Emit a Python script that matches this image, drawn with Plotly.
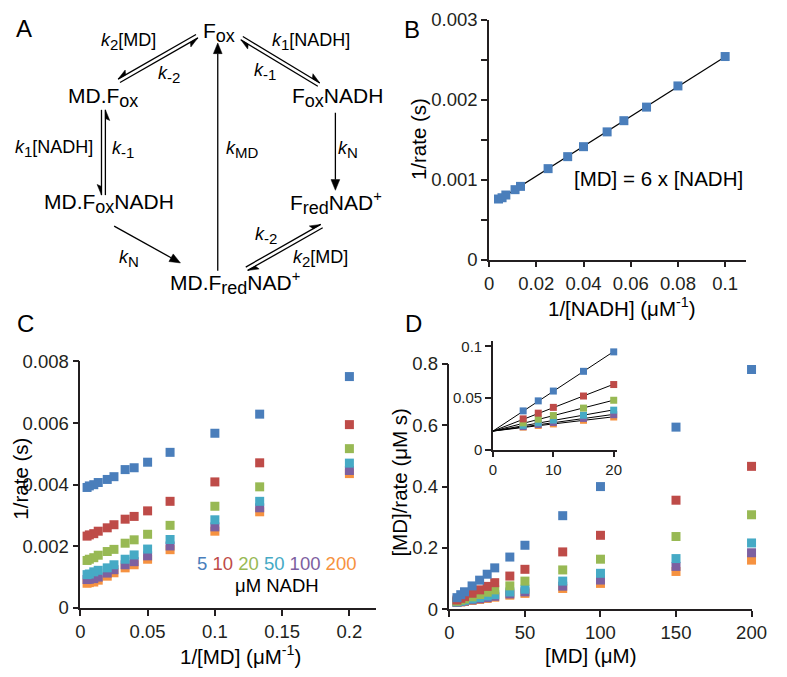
import numpy as np
import plotly.graph_objects as go

W, H = 787, 677

# ---------------- data ----------------
# Panel B
b_inv_nadh = [0.004, 0.0055, 0.0071, 0.011, 0.0133, 0.025, 0.0333, 0.04, 0.05, 0.0571, 0.0667, 0.08, 0.1]
b_inv_rate = [0.00076, 0.000776, 0.00081, 0.000877, 0.000918, 0.00114, 0.00129, 0.001415, 0.0016,
              0.00174, 0.00191, 0.002175, 0.002543]

# Panels C / D
md_conc = [5, 7.5, 10, 15, 20, 25, 30, 40, 50, 75, 100, 150, 200]
inv_md = [0.2, 0.1333, 0.1, 0.0667, 0.05, 0.04, 0.0333, 0.025, 0.02, 0.0133, 0.01, 0.0067, 0.005]
nadh_labels = ["5", "10", "20", "50", "100", "200"]
colors = ["#4A7EBB", "#BE4B48", "#98B954", "#46AAC5", "#7D60A0", "#F69240"]

c_inv_rate = [
    [0.00751, 0.00629, 0.00567, 0.00505, 0.00473, 0.00455, 0.00449, 0.00426, 0.00417, 0.00407, 0.0040, 0.00396, 0.00391],
    [0.00595, 0.00471, 0.00409, 0.00346, 0.00315, 0.00297, 0.00288, 0.0027, 0.0026, 0.00249, 0.00241, 0.00237, 0.00233],
    [0.00517, 0.00393, 0.0033, 0.00268, 0.00239, 0.00221, 0.0021, 0.0019, 0.00183, 0.00171, 0.00163, 0.00158, 0.00154],
    [0.0047, 0.00346, 0.00286, 0.00222, 0.00191, 0.00172, 0.00158, 0.0014, 0.0013, 0.00122, 0.00117, 0.0011, 0.00108],
    [0.00446, 0.00325, 0.00263, 0.00201, 0.00169, 0.0015, 0.0014, 0.00124, 0.00113, 0.001, 0.00095, 0.00093, 0.00092],
    [0.00436, 0.00312, 0.00249, 0.00189, 0.00158, 0.0014, 0.0013, 0.00114, 0.00103, 0.0009, 0.00084, 0.00082, 0.0008],
]

d_md_rate = [
    [0.0375, 0.0472, 0.0567, 0.0758, 0.0946, 0.114, 0.1347, 0.170, 0.2085, 0.305, 0.40, 0.594, 0.782],
    [0.0298, 0.0353, 0.0409, 0.0519, 0.063, 0.0743, 0.0864, 0.108, 0.13, 0.1868, 0.241, 0.3555, 0.466],
    [0.0259, 0.0295, 0.033, 0.0402, 0.0478, 0.0553, 0.063, 0.076, 0.0915, 0.128, 0.163, 0.237, 0.308],
    [0.0235, 0.026, 0.0286, 0.0333, 0.0382, 0.043, 0.0474, 0.056, 0.065, 0.0915, 0.117, 0.165, 0.216],
    [0.0223, 0.0244, 0.0263, 0.0302, 0.0338, 0.0375, 0.042, 0.0496, 0.0565, 0.075, 0.095, 0.1395, 0.184],
    [0.0218, 0.0234, 0.0249, 0.0284, 0.0316, 0.035, 0.039, 0.0456, 0.0515, 0.0675, 0.084, 0.123, 0.16],
]
inset_n = 5  # first five [MD] points shown in inset
inset_intercept = 0.018

b_xticks = [0, 0.02, 0.04, 0.06, 0.08, 0.1]
b_xtext = ["0", "0.02", "0.04", "0.06", "0.08", "0.1"]
b_yticks = [0, 0.001, 0.002, 0.003]
b_ytext = ["0", "0.001", "0.002", "0.003"]
c_xticks = [0, 0.05, 0.1, 0.15, 0.2]
c_xtext = ["0", "0.05", "0.1", "0.15", "0.2"]
c_yticks = [0, 0.002, 0.004, 0.006, 0.008]
c_ytext = ["0", "0.002", "0.004", "0.006", "0.008"]
d_xticks = [0, 50, 100, 150, 200]
d_xtext = ["0", "50", "100", "150", "200"]
d_yticks = [0, 0.2, 0.4, 0.6, 0.8]
d_ytext = ["0", "0.2", "0.4", "0.6", "0.8"]
i_xticks = [0, 10, 20]
i_xtext = ["0", "10", "20"]
i_yticks = [0, 0.05, 0.1]
i_ytext = ["0", "0.05", "0.1"]

# ---------------- helpers ----------------
def px(x):
    return x / W

def py(y):
    return 1 - y / H

FONT = "Liberation Sans, Arial, Helvetica, sans-serif"
AX = "#231F20"
TICK = 18.5
TITLE = 20.5

fig = go.Figure()

# Panel B
slope, icpt = np.polyfit(b_inv_nadh, b_inv_rate, 1)
bx = np.array([min(b_inv_nadh), max(b_inv_nadh)])
fig.add_trace(go.Scatter(x=bx, y=slope * bx + icpt, mode="lines", xaxis="x", yaxis="y",
                         line=dict(color="black", width=1.2), showlegend=False))
fig.add_trace(go.Scatter(x=b_inv_nadh, y=b_inv_rate, mode="markers", xaxis="x", yaxis="y",
                         marker=dict(symbol="square", size=9, color=colors[0]), cliponaxis=False,
                         showlegend=False))

# Panel C and D (orange drawn first, blue last)
for k in reversed(range(6)):
    fig.add_trace(go.Scatter(x=inv_md, y=c_inv_rate[k], mode="markers", xaxis="x2", yaxis="y2",
                             marker=dict(symbol="square", size=9, color=colors[k]), cliponaxis=False,
                             showlegend=False))
for k in reversed(range(6)):
    fig.add_trace(go.Scatter(x=md_conc, y=d_md_rate[k], mode="markers", xaxis="x3", yaxis="y3",
                             marker=dict(symbol="square", size=9, color=colors[k]), cliponaxis=False,
                             showlegend=False))
# inset fit lines (shared intercept)
for k in reversed(range(6)):
    xs = np.array(md_conc[:inset_n], dtype=float)
    ys = np.array(d_md_rate[k][:inset_n])
    s = np.sum(xs * (ys - inset_intercept)) / np.sum(xs * xs)
    lx = np.array([0.0, xs.max()])
    fig.add_trace(go.Scatter(x=lx, y=inset_intercept + s * lx, mode="lines", xaxis="x4", yaxis="y4",
                             line=dict(color="black", width=1), showlegend=False))
for k in reversed(range(6)):
    fig.add_trace(go.Scatter(x=md_conc[:inset_n], y=d_md_rate[k][:inset_n], mode="markers",
                             xaxis="x4", yaxis="y4",
                             marker=dict(symbol="square", size=7, color=colors[k]), cliponaxis=False,
                             showlegend=False))


def axis(dom, rng, tv, tt, anchor, size=TICK, minor=None):
    d = dict(domain=dom, range=rng, tickvals=tv, ticktext=tt, anchor=anchor,
             showline=True, linecolor=AX, linewidth=1.5, ticks="outside", ticklen=6,
             tickwidth=1.5, tickcolor=AX, showgrid=False, zeroline=False,
             tickfont=dict(family=FONT, size=size, color="#231F20"), fixedrange=True)
    if minor is not None:
        d["minor"] = dict(dtick=minor, ticks="outside", ticklen=6, tickwidth=1.5, tickcolor=AX,
                          showgrid=False)
    return d


layout = dict(
    width=W, height=H, margin=dict(l=0, r=0, t=0, b=0),
    paper_bgcolor="white", plot_bgcolor="rgba(0,0,0,0)", showlegend=False,
    xaxis=axis([px(496.7), px(760)], [0, 0.1087], b_xticks, b_xtext, "y"),
    yaxis=axis([py(256.7), py(9.3)], [0, 0.003], b_yticks, b_ytext, "x", minor=0.0005),
    xaxis2=axis([px(77.3), px(381)], [0, 0.22], c_xticks, c_xtext, "y2"),
    yaxis2=axis([py(616), py(361.7)], [0, 0.008], c_yticks, c_ytext, "x2"),
    xaxis3=axis([px(456), px(766)], [0, 200], d_xticks, d_xtext, "y3"),
    yaxis3=axis([py(617.3), py(364.3)], [0, 0.8], d_yticks, d_ytext, "x3"),
    xaxis4=axis([px(500.7), px(628.3)], [0, 20.6], i_xticks, i_xtext, "y4", size=15),
    yaxis4=axis([py(452.7), py(340.7)], [0, 0.105], i_yticks, i_ytext, "x4", size=15),
)
fig.update_layout(**layout)

annotations = []


def text(x, y, s, size=18, color="black", angle=0, xanchor="center"):
    annotations.append(dict(x=px(x), y=py(y), xref="paper", yref="paper", text=s, showarrow=False,
                            xanchor=xanchor, yanchor="middle", textangle=angle,
                            font=dict(family=FONT, size=size, color=color)))


# panel letters
text(19, 18, "A", size=24)
text(418, 19, "B", size=24)
text(21, 323, "C", size=24)
text(419, 323, "D", size=24)

# axis titles
text(425, 132, "1/rate (s)", size=TITLE, angle=-90)
text(633, 305, "1/[NADH] (μM<sup>-1</sup>)", size=TITLE)
text(15, 483, "1/rate (s)", size=TITLE, angle=-90)
text(242, 665, "1/[MD] (μM<sup>-1</sup>)", size=TITLE)
text(405, 487, "[MD]/rate (μM s)", size=TITLE, angle=-90)
text(601, 665, "[MD] (μM)", size=TITLE)

# panel B note
text(671, 173, "[MD] = 6 x [NADH]", size=TITLE)

# panel C legend
leg = " ".join('<span style="color:%s">%s</span>' % (c, l) for c, l in zip(colors, nadh_labels))
text(279, 570.5, leg, size=18.5)
text(279, 592.5, "μM NADH", size=18.5)

# ---------------- panel A scheme ----------------
def SUB(s, fs):
    return '<sub><span style="font-size:%dpx">%s</span></sub>' % (fs, s)

def K(sub):
    return "<i>k</i>" + SUB(sub, 15)

species = [
    (220, 22, "F" + SUB("ox", 18)),
    (101, 89, "MD.F" + SUB("ox", 18)),
    (341, 89, "F" + SUB("ox", 18) + "NADH"),
    (107, 199, "MD.F" + SUB("ox", 18) + "NADH"),
    (340, 198, "F" + SUB("red", 18) + "NAD<sup>+</sup>"),
    (236, 281, "MD.F" + SUB("red", 18) + "NAD<sup>+</sup>"),
]
constants = [
    (127, 31, K("2") + "[MD]"),
    (314, 31, K("1") + "[NADH]"),
    (168, 66, K("-2")),
    (267, 62, K("-1")),
    (50, 142, K("1") + "[NADH]"),
    (121, 143, K("-1")),
    (243, 143, K("MD")),
    (352, 143, K("N")),
    (268, 232, K("-2")),
    (127, 255, K("N")),
    (324, 255, K("2") + "[MD]"),
]
for x, y, s in species:
    text(x, y, s, size=21)
for x, y, s in constants:
    text(x, y, s, size=18)

shapes = []
LW = 1.3


def seg(x0, y0, x1, y1):
    shapes.append(dict(type="line", xref="paper", yref="paper", x0=px(x0), y0=py(y0), x1=px(x1),
                       y1=py(y1), line=dict(color="black", width=LW)))


def tri(pts):
    path = "M " + " L ".join("%f,%f" % (px(a), py(b)) for a, b in pts) + " Z"
    shapes.append(dict(type="path", xref="paper", yref="paper", path=path,
                       fillcolor="black", line=dict(color="black", width=0.5)))


def arrow(x0, y0, x1, y1, hl=11, hw=4.5):
    L = np.hypot(x1 - x0, y1 - y0)
    ux, uy = (x1 - x0) / L, (y1 - y0) / L
    nx, ny = -uy, ux
    bx_, by_ = x1 - ux * hl, y1 - uy * hl
    seg(x0, y0, bx_, by_)
    tri([(x1, y1), (bx_ + nx * hw, by_ + ny * hw), (bx_ - nx * hw, by_ - ny * hw)])


def half_arrow(x0, y0, x1, y1, side, hl=11, hw=4.5):
    L = np.hypot(x1 - x0, y1 - y0)
    ux, uy = (x1 - x0) / L, (y1 - y0) / L
    nx, ny = -uy * side, ux * side
    seg(x0, y0, x1, y1)
    bx_, by_ = x1 - ux * hl, y1 - uy * hl
    tri([(x1, y1), (bx_ + nx * hw, by_ + ny * hw), (bx_ + ux * 2, by_ + uy * 2)])


def eq_pair(P, Q, sign, gap=2.0):
    (x0, y0), (x1, y1) = P, Q
    L = np.hypot(x1 - x0, y1 - y0)
    ux, uy = (x1 - x0) / L, (y1 - y0) / L
    nx, ny = -uy * sign, ux * sign
    half_arrow(x0 + nx * gap, y0 + ny * gap, x1 + nx * gap, y1 + ny * gap, sign)
    half_arrow(x1 - nx * gap, y1 - ny * gap, x0 - nx * gap, y0 - ny * gap, sign)


eq_pair((197, 26), (117, 72), +1)
eq_pair((243, 28), (322, 76), -1)
eq_pair((101, 102), (101, 190), +1)
eq_pair((325, 222), (248, 266), -1)
arrow(218.3, 268, 218.3, 33)
arrow(339, 105, 339, 185)
arrow(112, 222, 180, 260)

fig.update_layout(annotations=annotations, shapes=shapes)
fig.write_html("out.html", config={"displayModeBar": False},
               post_script="document.body.style.margin='0';document.body.style.overflow='hidden';")
